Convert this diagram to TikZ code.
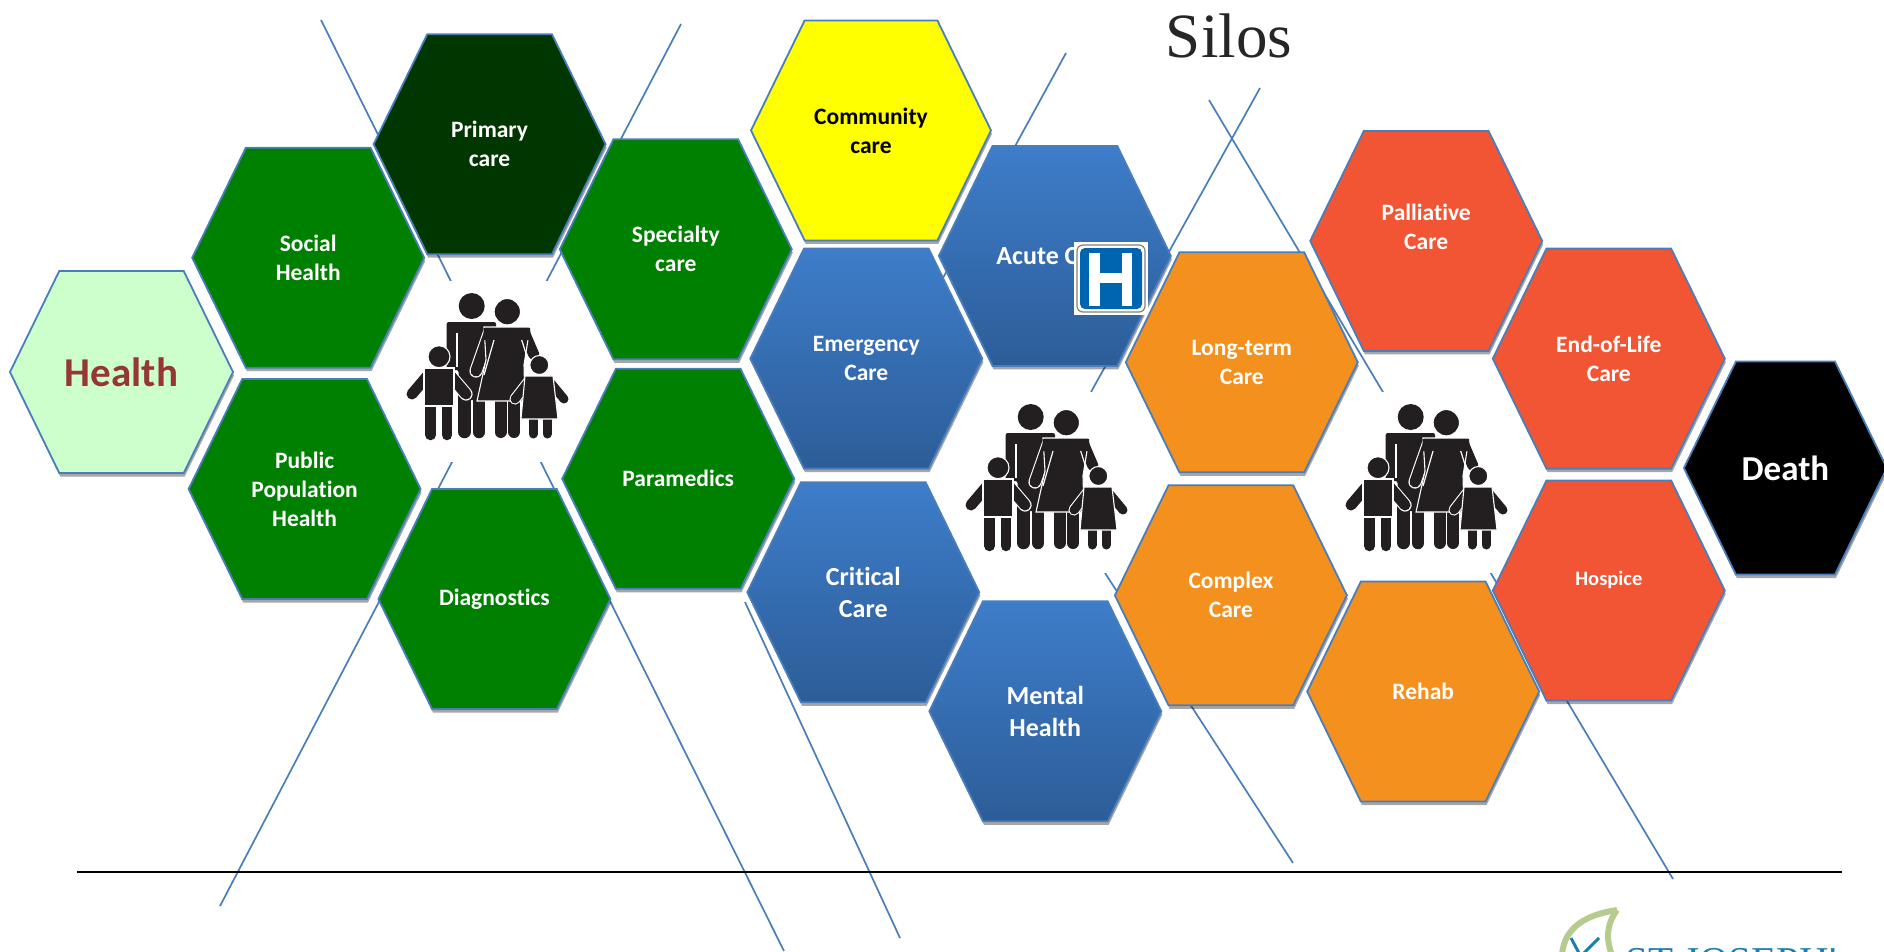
\documentclass[tikz,border=0pt]{standalone}
\usepackage{fontspec}
\setmainfont{Carlito}[Ligatures=NoCommon]
\newfontfamily\serifsilo{Liberation Serif}
\usetikzlibrary{shapes.symbols,shadows}
\definecolor{hexedge}{RGB}{74,126,187}
\definecolor{hexgreen}{RGB}{0,128,0}
\definecolor{hexdark}{RGB}{0,55,0}
\definecolor{hexpale}{RGB}{204,255,204}
\definecolor{hexyellow}{RGB}{255,255,0}
\definecolor{hextop}{RGB}{62,125,202}
\definecolor{hexbot}{RGB}{44,93,152}
\definecolor{hexorange}{RGB}{244,144,30}
\definecolor{hexred}{RGB}{241,85,51}
\definecolor{healthred}{RGB}{149,55,53}
\definecolor{famblack}{RGB}{35,31,32}
\definecolor{signblue}{RGB}{0,101,176}
\definecolor{leafgreen}{RGB}{181,204,142}
\definecolor{logoblue}{RGB}{27,127,181}
\tikzset{
  hexcell/.style={signal, signal to=east and west, signal pointer angle=128, inner sep=0pt,
    minimum width=232pt, minimum height=220pt, draw=hexedge, line width=1.8pt, align=center,
    text=white, font=\fontsize{23.5}{29}\selectfont\bfseries,
    drop shadow={shadow xshift=1pt, shadow yshift=-3.5pt, fill=black, opacity=.35}},
  greenhex/.style={hexcell, fill=hexgreen},
  bluehex/.style={hexcell, top color=hextop, bottom color=hexbot},
  orangehex/.style={hexcell, fill=hexorange},
  redhex/.style={hexcell, fill=hexred},
  bigtext/.style={font=\fontsize{26}{32}\selectfont\bfseries},
  siloline/.style={draw=hexedge, line width=1.7pt},
  famline/.style={fill=famblack, draw=white, line width=1.1pt},
  limb/.style={draw=white, double=famblack, double distance=#1, line width=1.1pt, line cap=round},
  familypic/.pic={
    \fill[white] (5,11) rectangle (215,192);
    % father
    \fill[famblack] (91.7,36) circle (13);
    \fill[famblack, rounded corners=2pt] (66.7,100) -- (66.7,52) -- (116,52) -- (116,110) -- (105,110)
      -- (105,130) -- (78.5,130) -- (78.5,100) -- cycle;
    \draw[famblack, line width=12.5pt, line cap=round] (84.5,125) -- (84.5,162);
    \draw[famblack, line width=12.5pt, line cap=round] (99,125) -- (99,162);
    \draw[white, line width=1.2pt] (77,63) -- (77,97);
    % mother
    \draw[limb=12pt] (120.5,125) -- (120.5,162);
    \draw[limb=12pt] (134,125) -- (134,162);
    \draw[limb=11pt] (109,64) -- (96,101);
    \draw[limb=11pt] (145,64) -- (154,85);
    \draw[famline] (104,57) -- (150,57) -- (144,95) -- (145,131) -- (97,131) -- (106,90) -- cycle;
    \fill[famblack] (104,58) -- (150,58) -- (151,70) -- (103,70) -- cycle;
    \draw[white, line width=1.2pt] (114,70) -- (104,105);
    \draw[white, line width=1.2pt] (141.7,70) -- (148,90);
    \draw[famline] (127.3,41.7) circle (13.2);
    % boy
    \draw[limb=10.5pt] (50.5,130) -- (50.5,165);
    \draw[limb=10.5pt] (67,130) -- (67,165);
    \draw[limb=11pt] (49,104) -- (32,124);
    \draw[limb=11pt] (69,104) -- (86,124);
    \draw[famline] (44,98) -- (74,98) -- (74,136) -- (44,136) -- cycle;
    \draw[famline] (59,86.7) circle (11);
    % girl
    \draw[limb=9pt] (153,145) -- (153,164);
    \draw[limb=9pt] (167,145) -- (167,164);
    \draw[limb=9pt] (149,111) -- (135,129);
    \draw[limb=9pt] (169,111) -- (184,129);
    \draw[famline] (145,106) -- (173,106) -- (178,149) -- (141,149) -- cycle;
    \draw[famline] (159.3,95) circle (9.5);
  }
}
\begin{document}
\begin{tikzpicture}[x=1pt,y=-1pt]
\useasboundingbox (0,0) rectangle (1884,951);
\coordinate (l1top) at (321,20);
\coordinate (l1bot) at (784,951);
\coordinate (l2top) at (681,24);
\coordinate (l2bot) at (220,906);
\coordinate (l3top) at (1066,53);
\coordinate (l3bot) at (920,320);
\coordinate (l4top) at (1260,88);
\coordinate (l4bot) at (1091,392);
\coordinate (l5top) at (745,602);
\coordinate (l5bot) at (900,938);
\coordinate (l6top) at (1105,573);
\coordinate (l6bot) at (1293,863);
\coordinate (l7top) at (1209,100);
\coordinate (l7bot) at (1673,879);
\coordinate (floorl) at (77,872);
\coordinate (floorr) at (1842,872);
\draw[siloline] (l1top) -- (l1bot);
\draw[siloline] (l2top) -- (l2bot);
\draw[siloline] (l3top) -- (l3bot);
\draw[siloline] (l4top) -- (l4bot);
\draw[siloline] (l5top) -- (l5bot);
\draw[siloline] (l6top) -- (l6bot);
\draw[siloline] (l7top) -- (l7bot);
\draw[black, line width=2.4pt] (floorl) -- (floorr);

\pic at (380,270) {familypic};
\pic at (939,381) {familypic};
\pic at (1319,381) {familypic};

\node[hexcell, fill=hexpale, text=healthred, minimum width=223pt, minimum height=202pt,
  font=\fontsize{41}{48}\selectfont\bfseries] (health) at (121.5,372) {Health};
\node[greenhex] (social) at (308.2,257.7) {Social\\Health};
\node[greenhex] (public) at (304.6,489) {Public\\Population\\Health};
\node[greenhex, fill=hexdark] (primary) at (489.6,144.2) {Primary\\care};
\node[greenhex] (diagnostics) at (494.4,599) {Diagnostics};
\node[greenhex] (specialty) at (675.8,249.3) {Specialty\\care};
\node[greenhex] (paramedics) at (678.2,478.8) {Paramedics};
\node[hexcell, fill=hexyellow, text=black, minimum width=240pt] (community) at (871,130.4) {Community\\care};
\node[bluehex] (emergency) at (866.3,358.6) {Emergency\\Care};
\node[bluehex, bigtext] (critical) at (863.3,592.3) {Critical\\Care};
\node[bluehex, bigtext] (acute) at (1054.9,255.9) {Acute Care};
\node[bluehex, bigtext] (mental) at (1045.3,711.3) {Mental\\Health};
\node[orangehex] (longterm) at (1241.8,362.3) {Long-term\\Care};
\node[orangehex] (complex) at (1230.9,595.3) {Complex\\Care};
\node[orangehex] (rehab) at (1423.2,691.5) {Rehab};
\node[redhex] (palliative) at (1426.2,240.9) {Palliative\\Care\\~};
\node[redhex] (endoflife) at (1608.8,358.6) {End-of-Life\\Care};
\node[redhex, font=\fontsize{20.5}{25}\selectfont\bfseries] (hospice) at (1608.8,590.5) {Hospice\\~};
\node[hexcell, fill=black, minimum width=203pt, minimum height=213pt,
  font=\fontsize{35}{42}\selectfont\bfseries] (death) at (1785.4,468) {Death};

\node[font=\fontsize{63}{70}\selectfont\serifsilo, text=black!85] (silos) at (1229,36) {Silos};

% hospital sign
\fill[white] (1074,242) rectangle (1148,315);
\draw[gray, fill=white, line width=1.2pt, rounded corners=6pt] (1077,245) rectangle (1145,312);
\fill[signblue, rounded corners=5pt] (1080,248) rectangle (1142,309);
\fill[white] (1088.5,253) rectangle (1099.5,306);
\fill[white] (1121.5,253) rectangle (1132,306);
\fill[white] (1099,273) rectangle (1122,283);

% logo
\draw[leafgreen, line width=6pt] (1617,910) .. controls (1590,914) and (1564,925) .. (1562,955);
\draw[leafgreen, line width=6pt] (1617,910) .. controls (1606,925) and (1606,940) .. (1612,955);
\draw[logoblue, line width=3pt] (1571,938) -- (1580,955);
\draw[logoblue, line width=3pt] (1599,938) -- (1582,955);
\node[anchor=base west, inner sep=0pt, text=logoblue, font=\fontsize{41}{48}\selectfont\serifsilo] (logo) at (1625,975) {ST JOSEPH'};
\end{tikzpicture}
\end{document}
